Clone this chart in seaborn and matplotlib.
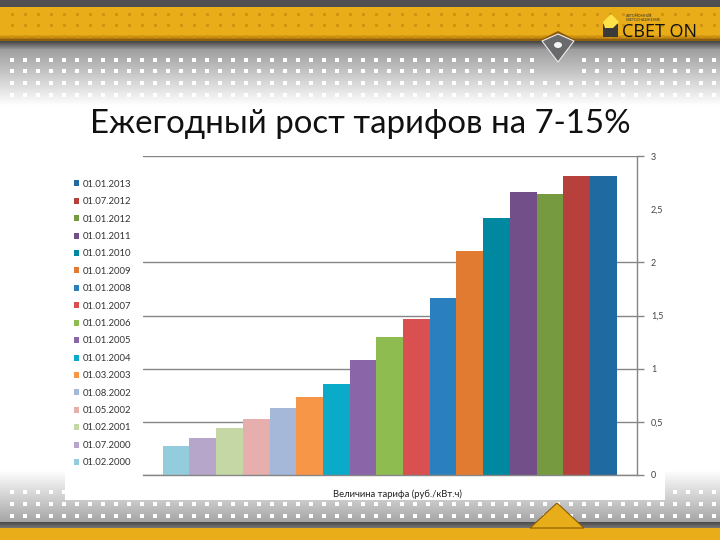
import numpy as np
import pandas as pd
import matplotlib
matplotlib.use("Agg")
import matplotlib.pyplot as plt
import seaborn as sns
from matplotlib.patches import Polygon, Rectangle, Patch, Circle
from matplotlib.ticker import FuncFormatter

# ---------------- data ----------------
dates = ["01.02.2000", "01.07.2000", "01.02.2001", "01.05.2002", "01.08.2002",
         "01.03.2003", "01.01.2004", "01.01.2005", "01.01.2006", "01.01.2007",
         "01.01.2008", "01.01.2009", "01.01.2010", "01.01.2011", "01.01.2012",
         "01.07.2012", "01.01.2013"]
tariffs = [0.27, 0.35, 0.44, 0.53, 0.63, 0.73, 0.86, 1.08, 1.30, 1.47,
           1.66, 2.11, 2.42, 2.66, 2.64, 2.81, 2.81]
colors = ["#93CDDD", "#B6A6CA", "#C4D7A4", "#E6AFAE", "#A5B8DA",
          "#F79646", "#0AABC9", "#8A65A8", "#8FBC50", "#DA4F4F",
          "#2A80BF", "#E27B32", "#0088A0", "#724F88", "#769A40",
          "#B8403C", "#1F6AA0"]
y_ticks = [0, 0.5, 1, 1.5, 2, 2.5, 3]
title = "Ежегодный рост тарифов на 7-15%"
xlabel = "Величина тарифа (руб./кВт.ч)"

sns.set_style("white")
plt.rcParams["font.family"] = ["Lato", "DejaVu Sans"]

W, H = 720, 540
fig = plt.figure(figsize=(7.2, 5.4), dpi=100)

# ---------------- slide background (decoration) ----------------
bg = np.ones((H, W, 3))
bg[0:7] = (0.31, 0.31, 0.32)
bg[7:40] = (0.91, 0.68, 0.10)
for i, r in enumerate(range(34, 40)):
    bg[r] = (0.91 - 0.05 * i, 0.68 - 0.05 * i, 0.10 - 0.01 * i)
bg[39:41] = (0.55, 0.38, 0.05)
for i, r in enumerate(range(41, 49)):
    v = 0.28 + 0.04 * i
    bg[r] = (v, v, v)
for i, r in enumerate(range(49, 106)):
    v = 0.62 + 0.38 * (i / 56)
    bg[r] = (v, v, v)
xs = np.arange(12, W, 13)
for ry in (14, 25, 36):
    for x in xs:
        bg[ry - 1:ry + 2, x - 1:x + 2] = (0.82, 0.58, 0.07)
for ry in (60, 71, 83, 95):
    for x in xs:
        if 538 < x < 578 and ry < 75:
            continue
        bg[ry - 2:ry + 2, x - 2:x + 2] = (1, 1, 1)
# bottom band
for i, r in enumerate(range(470, 522)):
    v = 1.0 - 0.35 * (i / 51)
    bg[r] = (v, v, v)
for ry in (492, 504, 516):
    for x in xs:
        bg[ry - 2:ry + 2, x - 2:x + 2] = (1, 1, 1)
for i, r in enumerate(range(522, 528)):
    v = 0.30 + 0.03 * i
    bg[r] = (v, v, v)
bg[528:540] = (0.91, 0.68, 0.10)
# chart white box
bg[140:500, 65:665] = (1, 1, 1)
fig.figimage(bg, 0, 0, origin="upper", zorder=-5)


def P(x, y):
    return (x / W, 1 - y / H)


# top notch diamond
fig.patches.append(Polygon([P(540, 40), P(558, 31), P(576, 40)], closed=True,
                           facecolor="#8a5a08", edgecolor="none",
                           transform=fig.transFigure, zorder=1))
fig.patches.append(Polygon([P(542, 41), P(558, 34), P(574, 41), P(558, 62)],
                           closed=True, facecolor="#6a6a6c", edgecolor="#eeeeee",
                           linewidth=0.8, transform=fig.transFigure, zorder=1))
fig.patches.append(Circle(P(558, 45), 4 / W, facecolor="#f4f4f4", edgecolor="none",
                          transform=fig.transFigure, zorder=2))
# bottom notch
fig.patches.append(Polygon([P(530, 528), P(557, 503), P(584, 528)], closed=True,
                           facecolor="#E8AE1A", edgecolor="#8a5a08", linewidth=0.8,
                           transform=fig.transFigure, zorder=1))
# logo
fig.patches.append(Rectangle(P(603, 37), 15 / W, 13 / H, facecolor="#3a3a3a",
                             edgecolor="none", transform=fig.transFigure, zorder=1))
fig.patches.append(Polygon([P(603, 22), P(611, 14), P(619, 22), P(613, 28), P(605, 28)],
                           closed=True, facecolor="#FFE24A", edgecolor="none",
                           transform=fig.transFigure, zorder=1))
fig.text(622 / W, 1 - 37 / H, "СВЕТ ON", fontsize=13, color="#111111",
         family=["Open Sans", "DejaVu Sans"], va="baseline", ha="left", zorder=3)
fig.text(626 / W, 1 - 18 / H, "АВТОНОМНОЕ\nСВЕТОСНАБЖЕНИЕ", fontsize=2.6,
         color="#333333", va="center", ha="left", linespacing=1.1, zorder=3)

# title
fig.text(360 / W, 1 - 133 / H, title, fontsize=23.8, color="#111111",
         ha="center", va="baseline", zorder=3)

# ---------------- chart ----------------
ax = fig.add_axes([143 / W, 65 / H, 494 / W, 319 / H])
ax.set_zorder(2)
ax.set_facecolor("white")
df = pd.DataFrame({"date": dates, "tariff": tariffs})
sns.barplot(data=df, x="date", y="tariff", hue="date", palette=colors,
            width=1.0, dodge=False, legend=False, saturation=1,
            linewidth=0, ax=ax)
ax.set_xlim(-1.24, 17.26)
ax.set_ylim(0, 3)
ax.set_xticks([])
ax.set_ylabel("")
ax.yaxis.tick_right()
ax.set_yticks(y_ticks)
ax.yaxis.set_major_formatter(FuncFormatter(lambda v, p: f"{v:g}".replace(".", ",")))
ax.tick_params(axis="y", right=True, left=False, length=5, width=1,
               color="#868686", labelsize=6.5, labelcolor="#444444", pad=5)
ax.yaxis.grid(True, color="#868686", linewidth=1.0)
ax.set_axisbelow(True)
for t, v in zip(ax.yaxis.get_major_ticks(), y_ticks):
    if v == 2.5:
        t.gridline.set_visible(False)
        t.tick2line.set_visible(False)
for s in ("left", "top"):
    ax.spines[s].set_visible(False)
for s in ("right", "bottom"):
    ax.spines[s].set_color("#868686")
    ax.spines[s].set_linewidth(1.0)
ax.set_xlabel(xlabel, fontsize=6.8, color="#222222", labelpad=7)
ax.xaxis.set_label_coords((397 - 143) / 494, -0.045)

handles = [Patch(facecolor=c, edgecolor="none") for c in colors][::-1]
labels = dates[::-1]
ax.legend(handles, labels, loc="upper left", bbox_to_anchor=(70 / W, 1 - 176 / H),
          bbox_transform=fig.transFigure, frameon=False, fontsize=6.8,
          handlelength=0.6, handleheight=0.6, handletextpad=0.3,
          labelspacing=0.89, borderaxespad=0, labelcolor="#333333")

fig.savefig("out.png", dpi=100)
